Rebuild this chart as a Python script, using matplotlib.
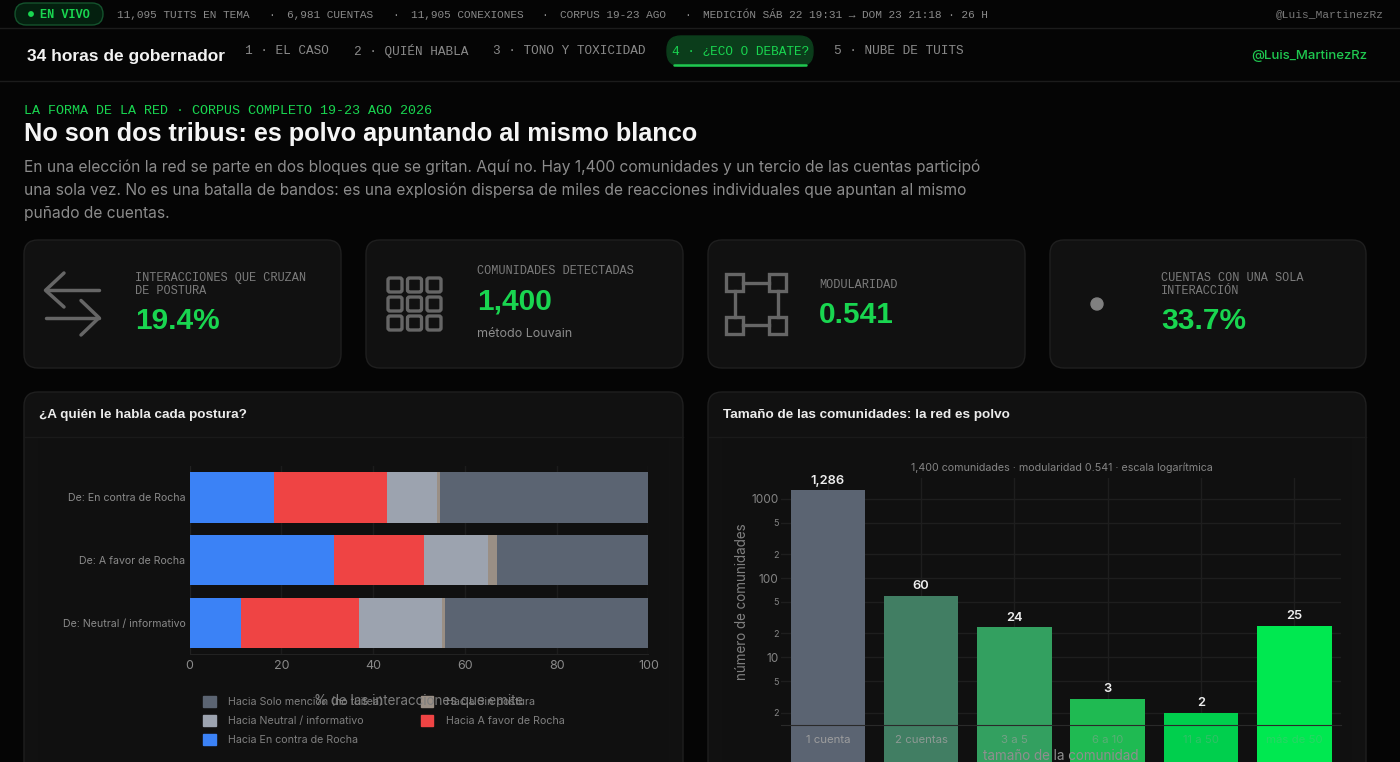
import matplotlib
matplotlib.use('Agg')
import matplotlib.pyplot as plt
from matplotlib.patches import FancyBboxPatch, Circle
from matplotlib.patches import Patch

W, H = 1400, 762

# datos del grafico de barras apiladas
posturas = ['De: En contra de Rocha', 'De: A favor de Rocha', 'De: Neutral / informativo']
hacia_contra = [18.4, 31.4, 11.3]
hacia_favor = [24.6, 19.7, 25.6]
hacia_neutral = [11.0, 13.9, 18.2]
hacia_sin = [0.5, 2.0, 0.5]
hacia_solo = [45.5, 33.0, 44.4]

# datos de comunidades
tamanos = ['1 cuenta', '2 cuentas', '3 a 5', '6 a 10', '11 a 50', 'más de 50']
comunidades = [1286, 60, 24, 3, 2, 25]
etiquetas = ['1,286', '60', '24', '3', '2', '25']

estado = [('11,095 TUITS EN TEMA', 117), ('·', 268), ('6,981 CUENTAS', 287), ('·', 392),
          ('11,905 CONEXIONES', 411), ('·', 541), ('CORPUS 19-23 AGO', 560), ('·', 684),
          ('MEDICIÓN SÁB 22 19:31 → DOM 23 21:18 · 26 H', 703)]
nav = [('1 · EL CASO', 245), ('2 · QUIÉN HABLA', 354), ('3 · TONO Y TOXICIDAD', 493), ('5 · NUBE DE TUITS', 834)]
parrafo = ['En una elección la red se parte en dos bloques que se gritan. Aquí no. Hay 1,400 comunidades y un tercio de las cuentas participó',
           'una sola vez. No es una batalla de bandos: es una explosión dispersa de miles de reacciones individuales que apuntan al mismo',
           'puñado de cuentas.']

BG = '#050505'
CARD = '#111111'
BORDER = '#1f1f1f'
GREEN = '#19d650'
MONO = 'Liberation Mono'
SANS = 'Inter'
HEAD = 'Liberation Sans'


def px_axes(fig, x0, y0, x1, y1):
    return fig.add_axes([x0 / W, 1 - y1 / H, (x1 - x0) / W, (y1 - y0) / H])


def card(ax, x0, y0, x1, y1, r=14, fc=CARD, ec=BORDER):
    ax.add_patch(FancyBboxPatch((x0 + r, y0 + r), x1 - x0 - 2 * r, y1 - y0 - 2 * r,
                                boxstyle=f'round,pad={r},rounding_size={r}',
                                fc=fc, ec=ec, lw=1))


def draw_page(ax):
    ax.set_xlim(0, W)
    ax.set_ylim(H, 0)
    ax.axis('off')

    # barra de estado
    ax.plot([0, W], [28, 28], color='#1c1c1c', lw=1)
    ax.plot([0, W], [81, 81], color='#1c1c1c', lw=1)
    card(ax, 15, 3, 103, 25, r=11, fc='#04200f', ec='#14532d')
    ax.add_patch(Circle((31, 14), 2.2, color=GREEN))
    ax.text(40, 14.5, 'EN VIVO', color=GREEN, family=MONO, fontsize=8.6, weight='bold', va='center')
    for txt, x in estado:
        ax.text(x, 14.5, txt, color='#8a8a8a', family=MONO, fontsize=8, va='center')
    ax.text(1384, 14.5, '@Luis_MartinezRz', color='#777777', family=MONO, fontsize=8.1, va='center', ha='right')

    # navegacion
    ax.text(27, 56, '34 horas de gobernador', color='#f2f2f2', family=HEAD, weight='bold', fontsize=12.5, va='center')
    for txt, x in nav:
        ax.text(x, 51.5, txt, color='#8a8a8a', family=MONO, fontsize=9.15, va='center')
    card(ax, 667, 36, 813, 66, r=14, fc='#0b3d1b', ec='#0b3d1b')
    ax.plot([674, 806], [65, 65], color='#1fc850', lw=1.8, solid_capstyle='round')
    ax.text(672, 51.5, '4 · ¿ECO O DEBATE?', color=GREEN, family=MONO, fontsize=9.15, va='center')
    ax.text(1367, 56, '@Luis_MartinezRz', color='#1fc850', family=SANS, fontsize=9.5, weight='medium', va='center', ha='right')

    # encabezado
    ax.text(24, 111, 'LA FORMA DE LA RED · CORPUS COMPLETO 19-23 AGO 2026', color=GREEN,
            family=MONO, fontsize=9.63, va='center')
    ax.text(24, 134, 'No son dos tribus: es polvo apuntando al mismo blanco', color='#f5f5f5',
            family=HEAD, weight='bold', fontsize=18.2, va='center')
    for i, linea in enumerate(parrafo):
        ax.text(24, 167 + i * 23.3, linea, color='#8c8c8c', family=SANS, fontsize=11.2, va='center')

    # tarjetas
    for x0, x1 in [(24, 341), (366, 683), (708, 1025), (1050, 1366)]:
        card(ax, x0, 240, x1, 368)
    kpi(ax, 135, ['INTERACCIONES QUE CRUZAN', 'DE POSTURA'], 278, '19.4%', 321)
    kpi(ax, 477, ['COMUNIDADES DETECTADAS'], 271, '1,400', 302)
    ax.text(477, 334, 'método Louvain', color='#8c8c8c', family=SANS, fontsize=9, va='center')
    kpi(ax, 819, ['MODULARIDAD'], 285, '0.541', 315)
    kpi(ax, 1161, ['CUENTAS CON UNA SOLA', 'INTERACCIÓN'], 278, '33.7%', 321)
    icons(ax)

    # paneles
    for x0, x1, titulo in [(24, 683, '¿A quién le habla cada postura?'),
                           (708, 1366, 'Tamaño de las comunidades: la red es polvo')]:
        card(ax, x0, 392, x1, 800)
        ax.plot([x0, x1], [437, 437], color='#1a1a1a', lw=1)
        ax.text(x0 + 15, 415, titulo, color='#ececec', family=HEAD, weight='bold', fontsize=9.7, va='center')
        ax.add_patch(plt.Rectangle((x0 + 14, 438), x1 - x0 - 28, 340, fc='#101010', ec='none'))


def kpi(ax, x, etiqueta, y, valor, yv):
    for i, t in enumerate(etiqueta):
        ax.text(x, y + i * 13, t, color='#7c7c7c', family=MONO, fontsize=8.6, va='center')
    ax.text(x, yv, valor, color=GREEN, family=HEAD, weight='bold', fontsize=21.5, va='center')


def icons(ax):
    c = '#666666'
    kw = dict(color=c, lw=2.5, solid_capstyle='round', solid_joinstyle='round')
    # flechas
    ax.plot([99, 45.5], [290.3, 290.3], **kw)
    ax.plot([64, 45.5, 64], [273, 290.3, 307], **kw)
    ax.plot([45.5, 99], [317.7, 317.7], **kw)
    ax.plot([81, 99, 81], [300.5, 317.7, 335], **kw)
    # cuadricula
    for x in (388, 407.5, 427):
        for y in (278, 297, 316):
            ax.add_patch(FancyBboxPatch((x + 2, y + 2), 10, 10, boxstyle='round,pad=2,rounding_size=2',
                                        fc='none', ec=c, lw=2.4))
    # red de cuatro nodos
    for x in (726, 769):
        for y in (274, 316.5):
            ax.add_patch(plt.Rectangle((x, y), 17, 17, fc='none', ec=c, lw=2.4))
    ax.plot([743, 769], [282.5, 282.5], color=c, lw=2.4)
    ax.plot([743, 769], [325, 325], color=c, lw=2.4)
    ax.plot([734.5, 734.5], [291, 316.5], color=c, lw=2.4)
    ax.plot([777.5, 777.5], [291, 316.5], color=c, lw=2.4)
    ax.add_patch(Circle((1097, 304), 6, color='#808080'))


def plot_posturas(fig):
    ax = px_axes(fig, 189.6, 466, 648.4, 654.4)
    ax.patch.set_alpha(0)
    series = [(hacia_contra, '#3b82f6'), (hacia_favor, '#ef4444'), (hacia_neutral, '#9ca3af'),
              (hacia_sin, '#9a8f85'), (hacia_solo, '#5b6472')]
    izq = [0, 0, 0]
    for vals, col in series:
        ax.barh(posturas, vals, left=izq, height=0.8, color=col, zorder=3)
        izq = [a + b for a, b in zip(izq, vals)]
    ax.set_xlim(0, 100)
    ax.set_ylim(2.5, -0.5)
    ax.set_xticks([0, 20, 40, 60, 80, 100])
    ax.tick_params(axis='x', colors='#8a8a8a', labelsize=9, length=0, pad=4)
    ax.tick_params(axis='y', colors='#8a8a8a', labelsize=7.6, length=0, pad=3)
    for lab in ax.get_xticklabels() + ax.get_yticklabels():
        lab.set_family(SANS)
    ax.grid(axis='x', color='#1c1c1c', lw=1, zorder=0)
    for s in ['top', 'right']:
        ax.spines[s].set_visible(False)
    for s in ['left', 'bottom']:
        ax.spines[s].set_color('#222222')
    handles = [Patch(color='#5b6472'), Patch(color='#9ca3af'), Patch(color='#3b82f6'),
               Patch(color='#9a8f85'), Patch(color='#ef4444')]
    labels = ['Hacia Solo mención (no tuitea)', 'Hacia Neutral / informativo', 'Hacia En contra de Rocha',
              'Hacia Sin postura', 'Hacia A favor de Rocha']
    fig.legend(handles, labels, ncol=2, frameon=False, loc='upper left',
               bbox_to_anchor=(199 / W, 1 - 692 / H), borderaxespad=0, borderpad=0.4,
               prop={'family': SANS, 'size': 7.7}, labelcolor='#7f7f7f',
               handlelength=1.15, handleheight=1.2, handletextpad=1.2,
               columnspacing=3.5, labelspacing=0.72)
    fig.text(419 / W, 1 - 701 / H, '% de las interacciones que emite', color='#7d7d7d',
             family=SANS, fontsize=9.7, ha='center', va='center', zorder=10)


def plot_comunidades(fig):
    ax = px_axes(fig, 781.2, 478, 1341, 725.3)
    ax.patch.set_alpha(0)
    colores = ['#5b6472', '#417e63', '#33a060', '#1fba52', '#00cf4d', '#00e850']
    base = 0.3
    x = list(range(len(tamanos)))
    alturas = [v - base for v in comunidades]
    ax.bar(x, alturas, bottom=base, width=0.8, color=colores, clip_on=False, zorder=3)
    ax.set_yscale('log')
    ax.set_xlim(-0.5, 5.5)
    ax.set_ylim(1.39, 1824)
    ax.set_yticks([1000, 100, 10])
    ax.set_yticklabels(['1000', '100', '10'])
    ax.set_yticks([500, 200, 50, 20, 5, 2], minor=True)
    ax.set_yticklabels(['5', '2', '5', '2', '5', '2'], minor=True)
    ax.set_xticks(x)
    ax.set_xticklabels([])
    ax.tick_params(axis='y', which='major', colors='#858585', labelsize=8.5, length=0, pad=2)
    ax.tick_params(axis='y', which='minor', colors='#858585', labelsize=6.5, length=0, pad=2)
    ax.tick_params(axis='x', length=0)
    for lab in ax.get_yticklabels(which='both'):
        lab.set_family(SANS)
    ax.grid(which='both', color='#1e1e1e', lw=1, zorder=0)
    for s in ['top', 'right', 'left']:
        ax.spines[s].set_visible(False)
    ax.spines['bottom'].set_color('#2a2a2a')
    ax.spines['bottom'].set_zorder(7)
    # las etiquetas del eje quedan encima de las barras, como en el original
    alfas = [0.95, 0.8, 0.6, 0.45, 0.3, 0.25]
    for xi, t, a in zip(x, tamanos, alfas):
        ax.annotate(t, (xi, 0), xycoords=('data', 'axes fraction'), xytext=(0, -7), textcoords='offset points',
                    ha='center', va='top', color='#a0a0a0', family=SANS, fontsize=8.2, alpha=a, zorder=8,
                    annotation_clip=False)
    for xi, v, t in zip(x, comunidades, etiquetas):
        ax.annotate(t, (xi, v), xytext=(0, 2.5), textcoords='offset points', ha='center', va='bottom',
                    color='#eeeeee', family=SANS, weight='semibold', fontsize=9.3, zorder=8)
    fig.text(1061.5 / W, 1 - 467.5 / H, '1,400 comunidades · modularidad 0.541 · escala logarítmica',
             color='#858585', family=SANS, fontsize=7.7, ha='center', va='center')
    fig.text(742 / W, 1 - 601.5 / H, 'número de comunidades', color='#808080', family=SANS,
             fontsize=9.7, rotation=90, ha='center', va='center')
    fig.text(1061 / W, 1 - 756 / H, 'tamaño de la comunidad', color='#8f8f8f', family=SANS,
             fontsize=9.7, ha='center', va='center', zorder=10)


def main():
    fig = plt.figure(figsize=(W / 100, H / 100), dpi=100, facecolor=BG)
    page = fig.add_axes([0, 0, 1, 1])
    draw_page(page)
    plot_posturas(fig)
    plot_comunidades(fig)
    fig.savefig('out.png', dpi=100, facecolor=BG)


if __name__ == '__main__':
    main()
